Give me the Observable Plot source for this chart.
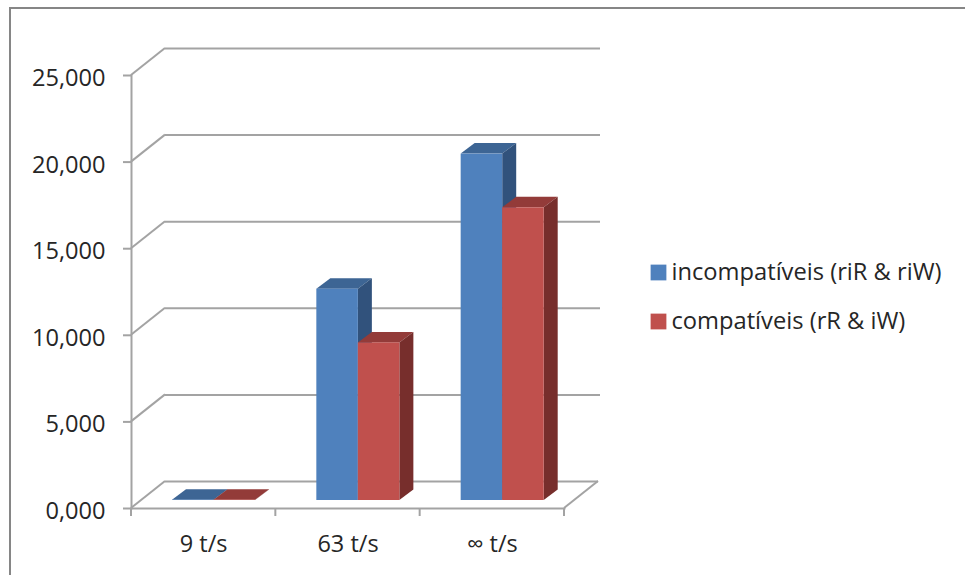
<!DOCTYPE html>
<html lang="pt">
<head>
<meta charset="utf-8">
<script src="https://cdn.jsdelivr.net/npm/d3@7"></script>
<script src="https://cdn.jsdelivr.net/npm/@observablehq/plot@0.6"></script>
<style>
  html, body { margin: 0; padding: 0; background: #fff; overflow: hidden; }
  #chart { position: absolute; left: 0; top: 0; }
  #chart svg { display: block; background: transparent; }
  #edge { position: absolute; left: 9px; top: 7px; right: 0; bottom: 0;
          border-top: 2.5px solid #868686; border-left: 2.5px solid #868686; }
</style>
</head>
<body>
<div id="edge"></div>
<div id="chart"></div>
<script>
// Throughput categories and the two request series (decimal comma in the labels).
const categories = ["9 t/s", "63 t/s", "∞ t/s"];
const incompativeis = [0.02, 12.2, 20.0];
const compativeis = [0.02, 9.1, 16.9];
const seriesNames = ["incompatíveis (riR & riW)", "compatíveis (rR & iW)"];
const yTicks = [0, 5, 10, 15, 20, 25];

const font = "'Open Sans', 'Noto Sans', sans-serif";
const inkColor = "#262626";
const lineColor = "#a3a3a3";
const sheets = [
  {values: incompativeis, front: "#4f81bd", top: "#3d6594", side: "#31527c", insetLeft: 30.5, insetRight: 72.3},
  {values: compativeis, front: "#c0504d", top: "#933b39", side: "#772e2c", insetLeft: 72, insetRight: 30.8}
];

// Depth offsets of the pseudo-3D box, in pixels.
const wall = {dx: 34, dy: -27};
const barShift = {dx: 10.5, dy: -8};
const barDepth = {dx: 14, dy: -10.5};

const commaFormat = d3.formatLocale({decimal: ",", thousands: ".", grouping: [3], currency: ["", ""]}).format(".3f");

function svgLine(g, x1, y1, x2, y2, stroke, width) {
  g.append("line").attr("x1", x1).attr("y1", y1).attr("x2", x2).attr("y2", y2)
    .attr("stroke", stroke).attr("stroke-width", width);
}

// Diagonals joining the front plane to the back wall, plus the far floor edge.
const wallDiagonals = (index, {x, y}) => {
  const g = d3.create("svg:g");
  const x0 = x(categories[0]);
  const x1 = x(categories[categories.length - 1]) + x.bandwidth();
  for (const t of yTicks) svgLine(g, x0, y(t), x0 + wall.dx, y(t) + wall.dy, lineColor, 2);
  svgLine(g, x1, y(0), x1 + wall.dx, y(0) + wall.dy, lineColor, 2);
  return g.node();
};

// Category separators below the floor edge.
const categoryTicks = (index, {x, y}) => {
  const g = d3.create("svg:g");
  const edges = categories.map((c) => x(c)).concat(x(categories[categories.length - 1]) + x.bandwidth());
  for (const e of edges) svgLine(g, e, y(0), e, y(0) + 8, lineColor, 2);
  return g.node();
};

// Top and side faces of one series' bars.
const prismFaces = (rows, s) => (index, {x, y}) => {
  const g = d3.create("svg:g");
  const bw = x.bandwidth();
  for (const d of rows) {
    const left = x(d.category) + s.insetLeft + barShift.dx;
    const right = x(d.category) + bw - s.insetRight + barShift.dx;
    const yt = y(d.value) + barShift.dy;
    const yb = y(0) + barShift.dy;
    const pts = (a) => a.map((p) => p.join(",")).join(" ");
    g.append("polygon").attr("fill", s.top).attr("points", pts([
      [left, yt], [right, yt], [right + barDepth.dx, yt + barDepth.dy], [left + barDepth.dx, yt + barDepth.dy]
    ]));
    g.append("polygon").attr("fill", s.side).attr("points", pts([
      [right, yt], [right + barDepth.dx, yt + barDepth.dy], [right + barDepth.dx, yb + barDepth.dy], [right, yb]
    ]));
  }
  return g.node();
};

const barMarks = sheets.flatMap((s) => {
  const rows = categories.map((category, i) => ({category, value: s.values[i]}));
  return [
    prismFaces(rows, s),
    Plot.barY(rows, {
      x: "category", y: "value", fill: s.front,
      insetLeft: s.insetLeft, insetRight: s.insetRight,
      dx: barShift.dx, dy: barShift.dy
    })
  ];
});

const legendMarks = seriesNames.flatMap((name, i) => {
  const rowY = [272, 321][i];
  return [
    Plot.dot([name], {
      frameAnchor: "top-left", dx: 658 - 131, dy: rowY - 75,
      symbol: "square", r: 8.9, fill: sheets[i].front
    }),
    Plot.text([name], {
      text: (d) => d, frameAnchor: "top-left", dx: 671 - 131, dy: rowY - 75,
      textAnchor: "start", lineAnchor: "middle",
      fontSize: 23.7, fontFamily: font, fill: inkColor
    })
  ];
});

const chart = Plot.plot({
  width: 965,
  height: 575,
  marginLeft: 131,
  marginRight: 401,
  marginTop: 75,
  marginBottom: 67,
  style: {background: "transparent", overflow: "visible"},
  x: {type: "band", domain: categories, padding: 0, round: false, label: null},
  y: {domain: [0, 25], ticks: yTicks, label: null},
  marks: [
    Plot.ruleY([0], {stroke: lineColor, strokeWidth: 2, dx: wall.dx, dy: wall.dy}),
    Plot.ruleY(yTicks.slice(1), {stroke: lineColor, strokeWidth: 2, dx: wall.dx, dy: wall.dy, insetRight: -2}),
    wallDiagonals,
    Plot.frame({anchor: "left", stroke: lineColor, strokeWidth: 2}),
    Plot.frame({anchor: "bottom", stroke: lineColor, strokeWidth: 2}),
    categoryTicks,
    Plot.axisY(yTicks, {
      anchor: "left", tickSize: 8, fill: "none",
      stroke: lineColor, strokeWidth: 2, label: null
    }),
    Plot.axisY(yTicks, {
      anchor: "left", tickSize: 0, tickPadding: 26, tickFormat: commaFormat,
      fill: inkColor, fontSize: 23.6, fontFamily: font, label: null, dy: 3
    }),
    Plot.axisX({
      anchor: "bottom", tickSize: 0, tickPadding: 27,
      fill: inkColor, fontSize: 23.5, fontFamily: font, label: null
    }),
    ...barMarks,
    ...legendMarks
  ]
});

document.getElementById("chart").appendChild(chart);
</script>
</body>
</html>
